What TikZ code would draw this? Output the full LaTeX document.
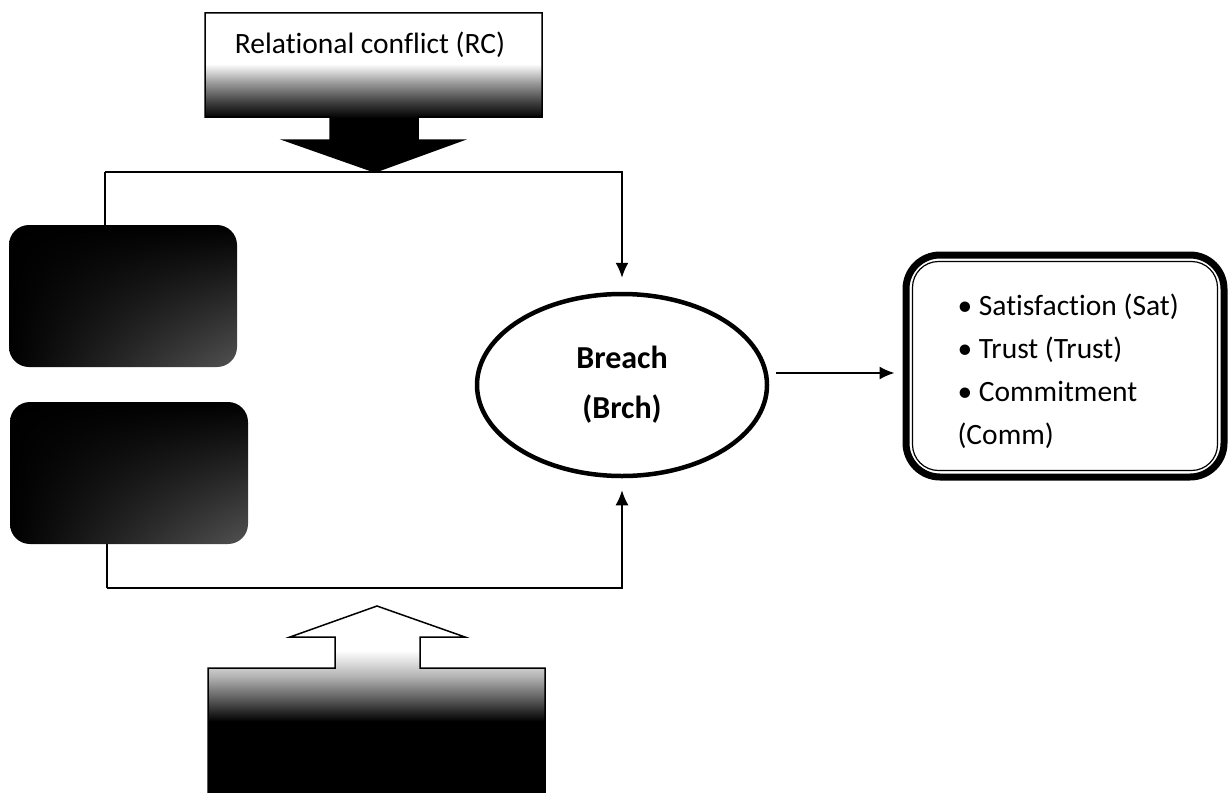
\documentclass[tikz,border=0pt]{standalone}
\usepackage{fontspec}
\setmainfont[Ligatures=NoCommon]{Carlito}
\usepackage{tikz}
\usetikzlibrary{shapes,arrows,positioning,calc,arrows.meta,shadings}

% shadings for the two block arrows
\pgfdeclareverticalshading{topfade}{100bp}{color(0bp)=(black); color(42bp)=(black); color(47bp)=(black!75); color(53bp)=(black!40); color(59bp)=(white); color(100bp)=(white)}
\pgfdeclareverticalshading{botfade}{100bp}{color(0bp)=(black); color(44bp)=(black); color(49bp)=(black!70); color(56bp)=(black!30); color(63bp)=(white); color(100bp)=(white)}

\tikzset{
    darkbox/.style={rounded corners=20pt, minimum width=228pt, minimum height=142pt,
        upper left=black, upper right=black, lower left=black, lower right=black!68},
    conn/.style={line width=1.6pt, -{Latex[length=15pt,width=13pt]}},
    plain/.style={line width=1.6pt}
}

\begin{document}
\begin{tikzpicture}[x=1pt,y=-1pt]
    \useasboundingbox (0,0) rectangle (1230,792);

    % Relational conflict block with down arrow
    \shadedraw[shading=topfade, draw=black, line width=1.5pt]
        (205,13) -- (542,13) -- (542,117) -- (418,117) -- (418,140) -- (463,140)
        -- (375,172) -- (284,140) -- (330,140) -- (330,117) -- (205,117) -- cycle;
    \node (rc) at (370,45) {\fontsize{29.5}{34}\selectfont Relational conflict (RC)};

    % Bottom block with up arrow
    \shadedraw[shading=botfade, draw=black, line width=1.5pt]
        (208,792) -- (208,668) -- (335,668) -- (335,637) -- (290,637) -- (377,606)
        -- (465,637) -- (420,637) -- (420,668) -- (545,668) -- (545,792) -- cycle;

    % Left boxes
    \node[darkbox, shade] (left1) at (123,296) {};
    \node[darkbox, shade, minimum width=238pt] (left2) at (129,473) {};

    % Breach
    \node[ellipse, draw, line width=4.5pt, minimum width=290pt, minimum height=182pt,
        align=center, font=\bfseries\fontsize{32}{50}\selectfont] (breach) at (622,385)
        {Breach\\(Brch)};

    % Outcomes
    \node[draw, line width=7pt, rounded corners=34pt, minimum width=318pt, minimum height=222pt]
        (outcome) at (1065,366) {};
    \draw[line width=1.2pt, rounded corners=26pt]
        ([xshift=10pt,yshift=-10pt]outcome.north west) rectangle ([xshift=-10pt,yshift=10pt]outcome.south east);
    \node[align=left, anchor=west, font=\fontsize{29.5}{43}\selectfont] (outtext) at (954,371)
        {\textbullet\ Satisfaction (Sat)\\\textbullet\ Trust (Trust)\\\textbullet\ Commitment\\(Comm)};

    % Connectors
    \coordinate (topjoin) at (105,172);
    \coordinate (botjoin) at (107,588);
    \draw[plain] (topjoin |- left1.north) -- (topjoin);
    \draw[conn, shorten >=14pt] (topjoin) -| (breach.north);
    \draw[plain] (botjoin |- left2.south) -- (botjoin);
    \draw[conn, shorten >=12pt] (botjoin) -| (breach.south);
    \draw[conn] ([xshift=7pt,yshift=-7pt]breach.east |- outcome.west) -- ([xshift=-8pt,yshift=-7pt]outcome.west);
\end{tikzpicture}
\end{document}
